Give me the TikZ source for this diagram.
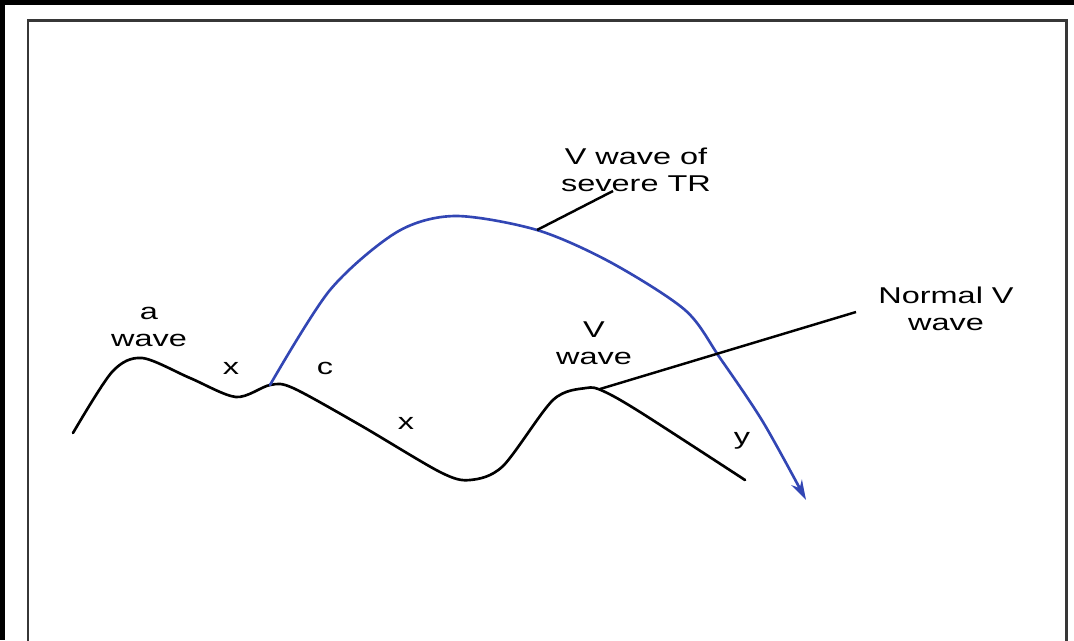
\documentclass[tikz,border=0pt]{standalone}
\usepackage{fontspec}
\setmainfont{Liberation Sans}
\usepackage{xcolor}
\usepackage{tikz}
\usetikzlibrary{arrows.meta,calc}
\definecolor{trblue}{RGB}{50,70,180}
\definecolor{framegray}{RGB}{55,55,55}

\begin{document}
\begin{tikzpicture}[
  x=0.01cm, y=-0.01cm,
  lbl/.style={font=\fontsize{6.5}{7.6}\selectfont, align=center, xscale=1.42, inner sep=0pt},
  wave/.style={line width=0.75pt, line join=round, line cap=round},
  tr/.style={wave, color=trblue, -{Stealth[length=2mm, width=1.2mm]}},
  leader/.style={line width=0.7pt},
]
\useasboundingbox (0,0) rectangle (1074,640);

% ============ Frame ============
\fill[black] (0,0) rectangle (1074,5);
\fill[black] (0,0) rectangle (4.5,640);
\draw[framegray, line width=0.85pt] (28,645) -- (28,21) -- (1066,21) -- (1066,645);

% ============ Normal pressure curve (black) ============
\draw[wave] plot[smooth, tension=0.5] coordinates {
  (73,433) (112,372) (142,358) (190,378) (236,397) (270,385) (293,388)
  (360,425) (440,472) (470,480) (503,466) (553,400) (586,388) (603,391)
  (640,412) (745,480)};

% ============ V wave of severe TR (blue) ============
\draw[tr] plot[smooth, tension=0.5] coordinates {
  (270,385) (330,290) (397,232) (455,216) (537,230) (610,262)
  (685,310) (720,358) (763,422) (806,500)};

% ============ Points on the curves ============
\coordinate (trpt) at (537,230);
\coordinate (vpeak) at (600,389);

% ============ Labels ============
\node[lbl] (awave) at (149,327) {a\\wave};
\node[lbl] (xdescent) at (231,368) {x};
\node[lbl] (cwave) at (325,368) {c};
\node[lbl] (xtrough) at (406,423) {x};
\node[lbl] (vwave) at (594,343) {V\\wave};
\node[lbl] (ydescent) at (742,441) {y};
\node[lbl] (trlbl) at (636,170) {V wave of\\severe TR};
\node[lbl] (normlbl) at (946,309) {Normal V\\wave};

% ===================== LEADERS =====================
\coordinate (trend) at (613,191);
\coordinate (normend) at (856,312);
\draw[leader] (trpt) -- (trend);
\draw[leader] (vpeak) -- (normend);

\end{tikzpicture}
\end{document}
